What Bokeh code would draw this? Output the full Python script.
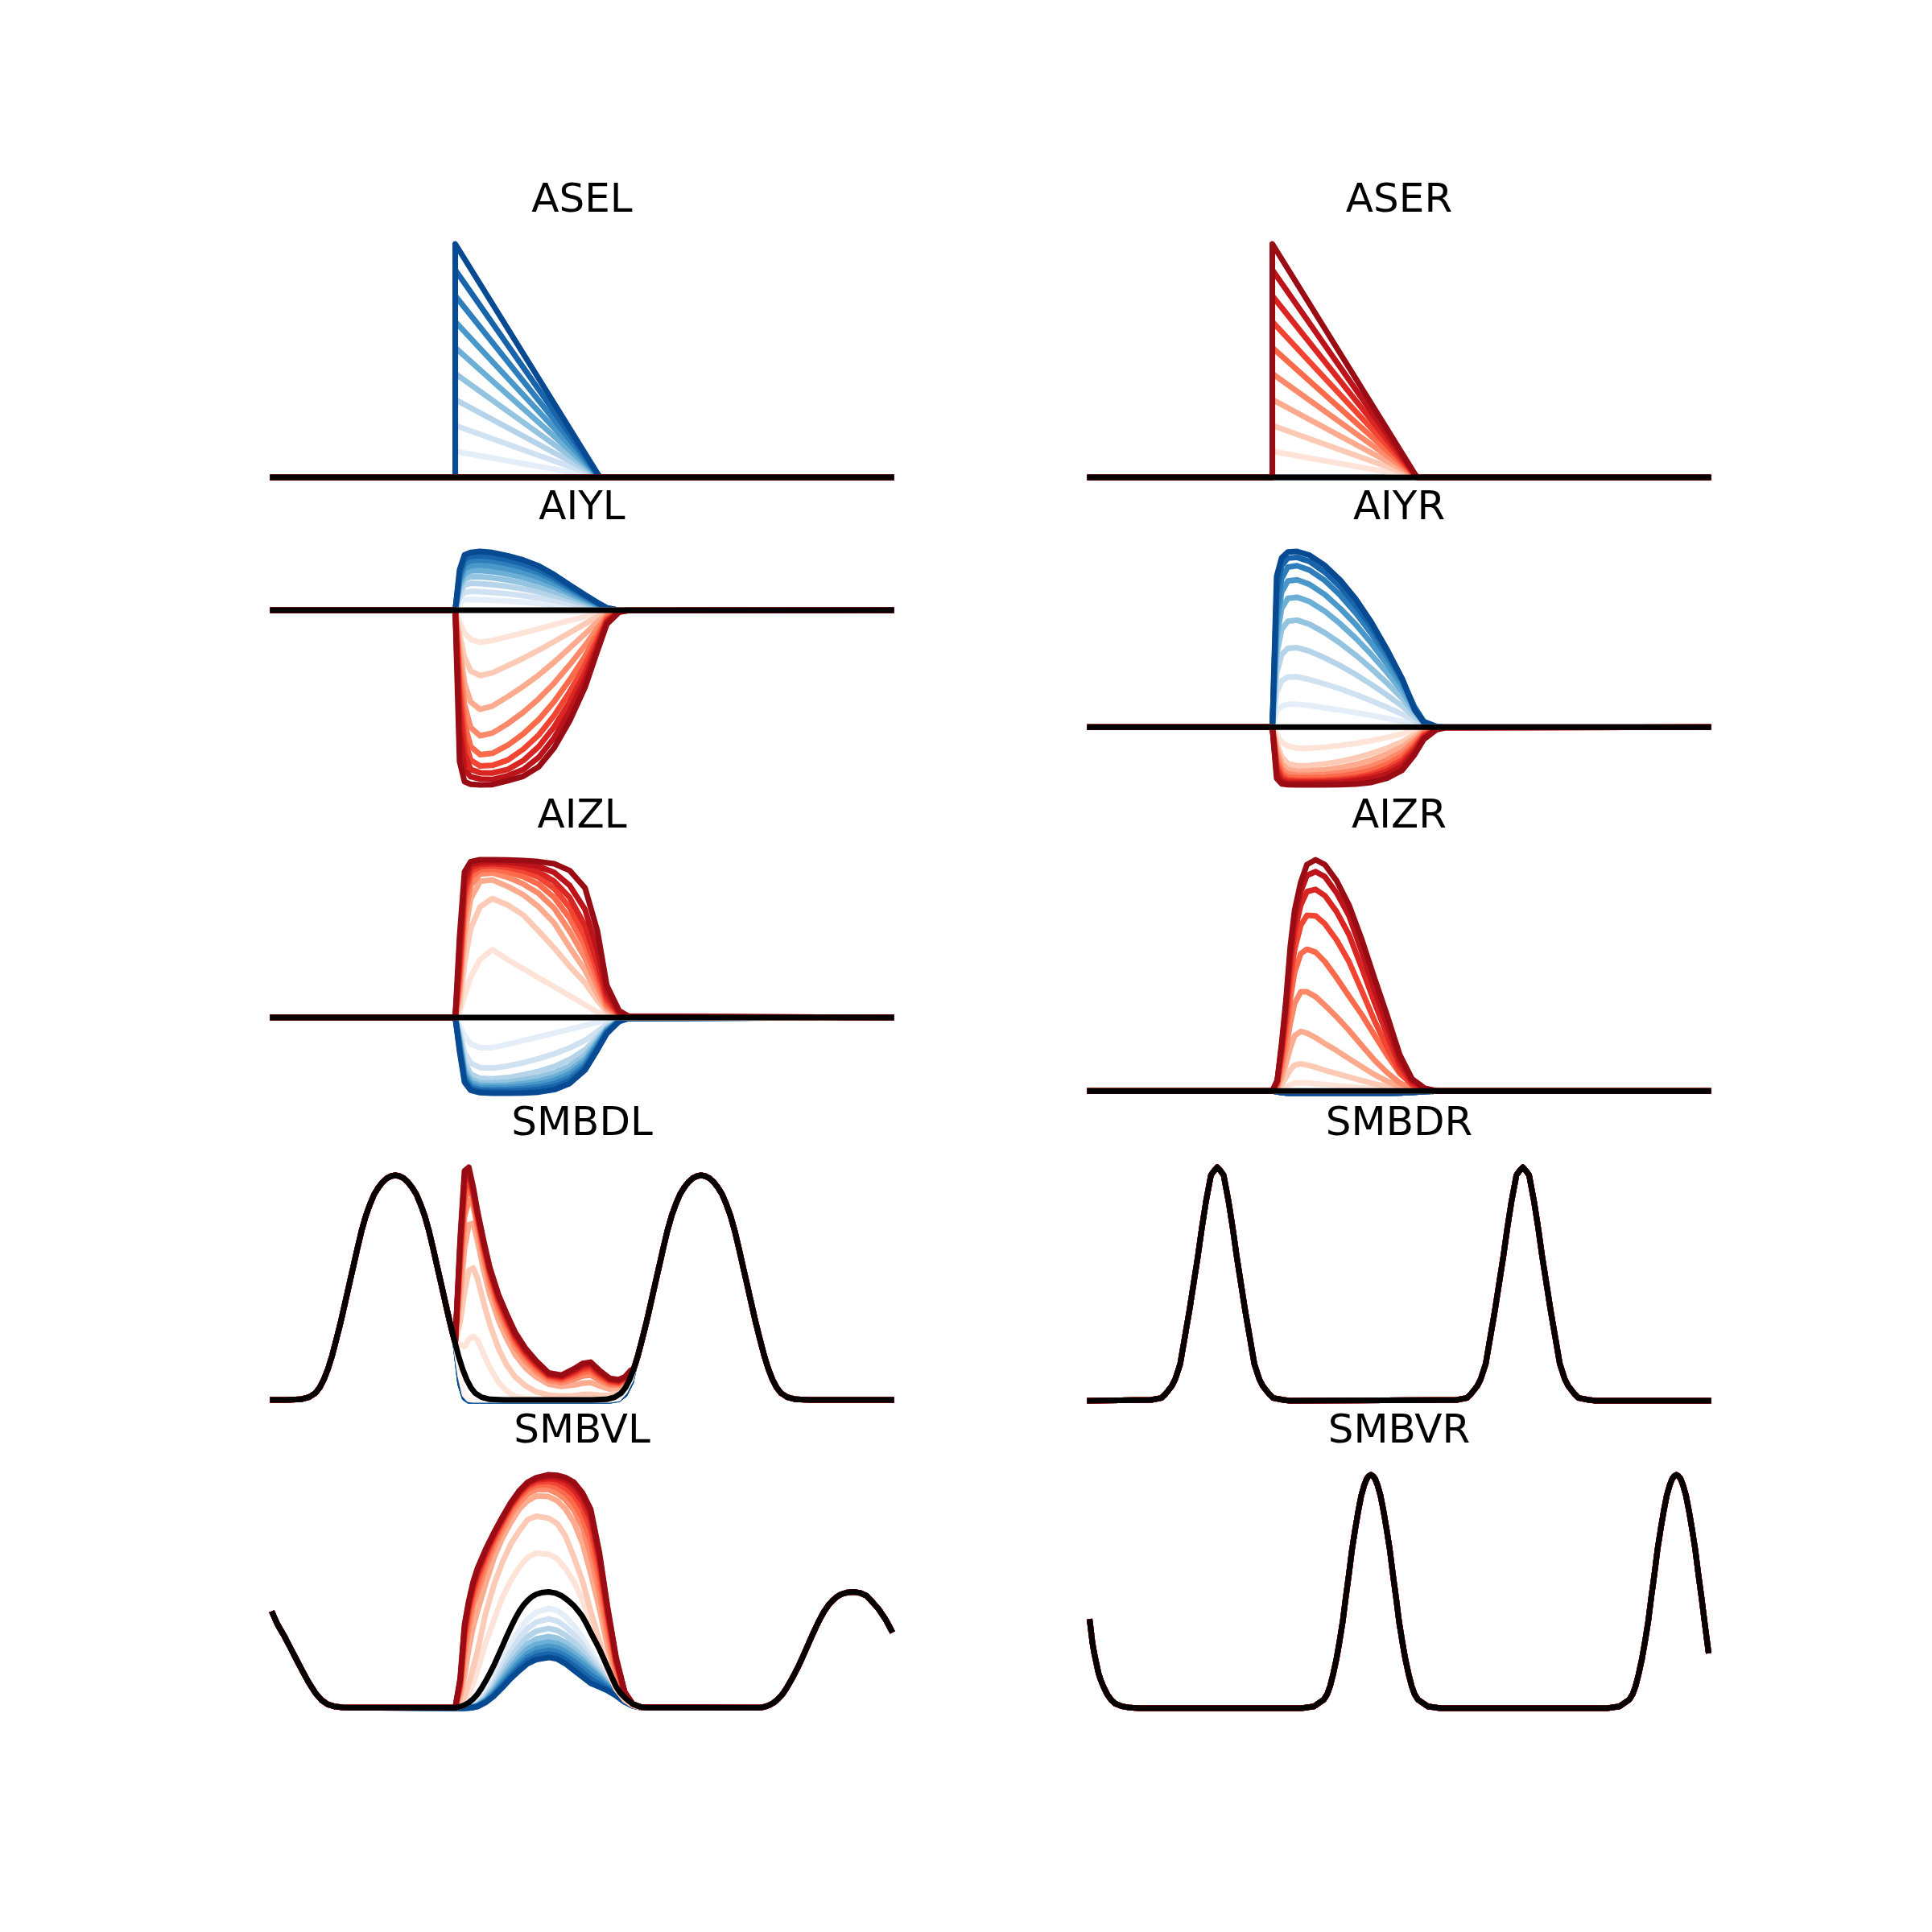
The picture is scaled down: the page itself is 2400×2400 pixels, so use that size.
from bokeh.plotting import figure
from bokeh.layouts import column, row
from bokeh.models import Range1d, ColumnDataSource
from bokeh.core.properties import value
from bokeh.embed import file_html
from bokeh.resources import INLINE

# ---------------- colours (matplotlib Blues / Reds sampled at 0.0 .. 0.9) ----------------
BLUES = ["#f7fbff", "#e3eef9", "#d0e1f2", "#b6d4e9", "#94c4df",
         "#6baed6", "#4a98c9", "#2e7ebc", "#1764ab", "#084a92"]
REDS = ["#fff5f0", "#fee4d8", "#fdcab5", "#fcab8e", "#fc8a6a",
        "#fb6a4a", "#f14432", "#d92623", "#bc141a", "#990c13"]

TITLES = [["ASEL", "ASER"], ["AIYL", "AIYR"], ["AIZL", "AIZR"],
          ["SMBDL", "SMBDR"], ["SMBVL", "SMBVR"]]

# ---------------- ASE (sensory step responses) ----------------
AS_X = [0, 29.5, 29.5, 52.9, 100]
AS_PEAKS = [0, 1, 2, 3, 4, 5, 6, 7, 8, 9]
AS_FLAT = [0, 0, 0, 0, 0]

# ---------------- AIY ----------------
AIY_X = [0, 29.5, 30.2, 31.0, 32.0, 33.5, 35.5, 38.0, 40.5, 43.0, 45.5, 48.0, 50.5, 52.5, 54.0, 56.0, 57.5, 100]
AI_FLAT = [0] * 18

AIYL_BLUE = [
    [0] * 18,
    [0, 0, 28, 38, 40, 39, 37, 34, 30, 25, 19, 13, 7, 3, 1, 0, 0, 0],
    [0, 0, 48, 66, 70, 69, 66, 61, 54, 46, 36, 25, 14, 6, 2, 0, 0, 0],
    [0, 0, 65, 93, 100, 99, 95, 88, 79, 68, 54, 38, 22, 10, 3, 0, 0, 0],
    [0, 0, 80, 116, 124, 124, 120, 112, 101, 87, 70, 50, 29, 14, 4, 0, 0, 0],
    [0, 0, 95, 135, 146, 147, 143, 134, 122, 106, 86, 61, 36, 18, 6, 0, 0, 0],
    [0, 0, 108, 155, 165, 167, 163, 153, 140, 122, 99, 71, 42, 21, 7, 0, 0, 0],
    [0, 0, 120, 173, 184, 187, 183, 172, 158, 139, 112, 80, 48, 24, 8, 0, 0, 0],
    [0, 0, 135, 190, 200, 202, 198, 187, 172, 151, 122, 87, 53, 27, 9, 0, 0, 0],
    [0, 0, 150, 205, 214, 218, 214, 202, 186, 164, 132, 94, 57, 29, 9, 0, 0, 0],
]
AIYL_RED = [
    [0] * 18,
    [0, 0, -45, -85, -108, -119, -112, -98, -84, -69, -53, -38, -24, -12, -4, 0, 0, 0],
    [0, 0, -90, -175, -225, -242, -232, -205, -178, -148, -116, -83, -50, -24, -7, 0, 0, 0],
    [0, 0, -140, -270, -340, -367, -355, -320, -282, -240, -192, -140, -87, -43, -13, 0, 0, 0],
    [0, 0, -190, -350, -435, -465, -455, -420, -378, -328, -270, -202, -130, -66, -20, -1, 0, 0],
    [0, 0, -240, -420, -505, -535, -530, -500, -458, -405, -338, -258, -170, -88, -27, -2, 0, 0],
    [0, 0, -290, -480, -555, -577, -575, -555, -515, -462, -390, -302, -203, -106, -34, -3, 0, 0],
    [0, 0, -350, -530, -590, -602, -603, -590, -557, -505, -432, -340, -232, -122, -40, -4, -1, 0],
    [0, 0, -440, -590, -617, -625, -627, -613, -590, -545, -472, -375, -257, -137, -46, -5, -1, 0],
    [0, 0, -560, -635, -645, -647, -646, -632, -615, -580, -510, -410, -285, -150, -52, -7, -1, 0],
]
AIYR_BLUE = [
    [0] * 18,
    [0, 0, 60, 78, 85, 85, 80, 72, 63, 54, 44, 33, 22, 11, 4, 0, 0, 0],
    [0, 0, 130, 172, 186, 187, 177, 160, 142, 121, 98, 74, 48, 24, 8, 0, 0, 0],
    [0, 0, 200, 270, 292, 295, 282, 257, 228, 195, 159, 120, 78, 38, 12, 1, 0, 0],
    [0, 0, 270, 362, 393, 397, 382, 350, 311, 267, 218, 165, 107, 52, 16, 1, 0, 0],
    [0, 0, 330, 440, 478, 482, 466, 430, 383, 330, 270, 204, 133, 62, 19, 2, 0, 0],
    [0, 0, 380, 500, 542, 547, 530, 492, 440, 381, 312, 236, 154, 70, 21, 2, 0, 0],
    [0, 0, 430, 550, 594, 599, 583, 544, 489, 423, 348, 263, 170, 75, 21, 2, 0, 0],
    [0, 0, 500, 600, 627, 630, 615, 575, 520, 452, 372, 280, 178, 72, 20, 2, 0, 0],
    [0, 0, 560, 628, 650, 652, 638, 600, 545, 475, 390, 290, 180, 65, 18, 3, 0, 0],
]
AIYR_RED = [
    [0] * 18,
    [0, 0, -30, -55, -70, -78, -78, -74, -68, -60, -50, -38, -25, -12, -4, 0, 0, 0],
    [0, 0, -60, -110, -135, -143, -142, -136, -127, -114, -98, -78, -54, -28, -9, -1, 0, 0],
    [0, 0, -80, -135, -157, -163, -162, -158, -150, -138, -122, -100, -73, -40, -14, -2, 0, 0],
    [0, 0, -100, -155, -173, -178, -178, -175, -169, -159, -144, -122, -92, -52, -19, -3, 0, 0],
    [0, 0, -120, -170, -185, -188, -188, -186, -181, -173, -160, -139, -107, -63, -24, -4, -1, 0],
    [0, 0, -140, -183, -195, -198, -198, -197, -193, -186, -174, -154, -121, -73, -29, -5, -1, 0],
    [0, 0, -155, -192, -201, -203, -203, -202, -199, -193, -182, -164, -132, -82, -34, -6, -1, 0],
    [0, 0, -172, -202, -207, -208, -208, -207, -205, -200, -191, -175, -144, -92, -40, -8, -1, 0],
    [0, 0, -190, -210, -213, -214, -214, -214, -213, -211, -205, -190, -160, -102, -45, -10, -2, 0],
]

# ---------------- AIZ ----------------
AIZL_RED = [
    [0] * 18,
    [0, 0, 20, 80, 150, 215, 252, 214, 181, 147, 114, 80, 47, 20, 7, 1, 0, 0],
    [0, 0, 40, 200, 330, 410, 441, 417, 380, 320, 258, 190, 128, 62, 22, 4, 0, 0],
    [0, 0, 80, 300, 440, 505, 510, 486, 455, 410, 350, 260, 175, 85, 30, 6, 1, 0],
    [0, 0, 110, 360, 490, 532, 536, 520, 495, 460, 405, 320, 220, 115, 40, 8, 1, 0],
    [0, 0, 140, 410, 520, 548, 551, 540, 522, 494, 445, 368, 262, 142, 50, 10, 2, 0],
    [0, 0, 170, 450, 540, 559, 563, 556, 543, 520, 478, 408, 300, 170, 62, 12, 2, 0],
    [0, 0, 200, 480, 555, 568, 571, 567, 557, 540, 505, 445, 340, 200, 76, 15, 3, 0],
    [0, 0, 250, 510, 567, 576, 578, 576, 570, 560, 538, 490, 400, 250, 95, 20, 4, 0],
    [0, 0, 300, 540, 578, 585, 585, 584, 582, 578, 570, 545, 480, 320, 120, 25, 5, 0],
]
AIZL_BLUE = [
    [0] * 18,
    [0, 0, -30, -70, -98, -112, -112, -100, -86, -72, -58, -44, -30, -18, -9, -2, 0, 0],
    [0, 0, -50, -130, -170, -186, -188, -180, -168, -153, -135, -113, -85, -52, -26, -7, -1, 0],
    [0, 0, -65, -165, -210, -226, -228, -223, -213, -200, -182, -156, -120, -73, -36, -9, -2, 0],
    [0, 0, -75, -185, -228, -242, -243, -240, -232, -221, -205, -180, -140, -84, -41, -10, -2, 0],
    [0, 0, -85, -200, -240, -252, -253, -251, -245, -236, -221, -197, -155, -92, -45, -11, -3, 0],
    [0, 0, -95, -212, -249, -259, -260, -259, -254, -247, -233, -210, -166, -99, -48, -12, -3, 0],
    [0, 0, -105, -222, -257, -267, -268, -267, -264, -258, -246, -223, -177, -106, -52, -13, -3, 0],
    [0, 0, -115, -232, -264, -273, -274, -274, -272, -267, -257, -234, -186, -113, -56, -14, -4, 0],
    [0, 0, -125, -240, -270, -279, -281, -281, -280, -277, -268, -245, -195, -120, -60, -15, -4, 0],
]

AIZR_X = [0, 29.5, 30.3, 31.0, 31.7, 32.4, 33.1, 34.1, 35.1, 36.5, 38.0, 39.9, 41.9, 44.0, 46.0, 48.0, 50.1, 52.1, 54.2, 56.2, 100]
AIZR_FLAT = [0] * 21
AIZR_RED = [
    [0] * 21,
    [0, 0, 3, 9, 16, 24, 29, 31, 30, 27, 24, 20, 16, 12, 8, 5, 3, 1, 0, 0, 0],
    [0, 0, 7, 25, 50, 78, 96, 101, 97, 88, 77, 65, 52, 39, 27, 16, 8, 3, 1, 0, 0],
    [0, 0, 12, 48, 100, 160, 205, 221, 215, 198, 176, 150, 120, 90, 61, 37, 16, 5, 1, 0, 0],
    [0, 0, 18, 75, 155, 250, 325, 368, 368, 350, 318, 275, 225, 168, 115, 70, 30, 9, 2, 0, 0],
    [0, 0, 25, 105, 210, 340, 440, 510, 526, 515, 480, 420, 352, 282, 208, 135, 65, 25, 5, 0, 0],
    [0, 0, 30, 130, 255, 410, 525, 615, 652, 650, 620, 560, 480, 370, 262, 165, 72, 22, 5, 0, 0],
    [0, 0, 35, 150, 290, 465, 590, 690, 740, 748, 725, 665, 580, 455, 330, 212, 95, 30, 6, 0, 0],
    [0, 0, 38, 165, 318, 505, 635, 740, 800, 814, 795, 735, 650, 515, 380, 250, 115, 38, 8, 0, 0],
    [0, 0, 40, 175, 335, 535, 670, 775, 840, 858, 840, 780, 690, 560, 420, 285, 135, 45, 10, 0, 0],
]
AIZR_BLUE = [0, 0, -3, -6, -7, -8, -8, -8, -8, -8, -8, -8, -8, -8, -8, -8, -7, -5, -2, 0, 0]

# ---------------- SMBD ----------------
SMBDL_PRE_X = [0, 2.11, 4.49, 5.85, 6.87, 7.56, 8.24, 8.92, 9.60, 10.28, 10.96, 11.64, 12.32, 13.00, 13.68,
               14.36, 15.04, 15.72, 16.40, 17.08, 17.76, 18.44, 19.12, 19.80, 20.48, 21.16, 21.84, 22.52,
               23.20, 23.88, 24.56, 25.24, 25.92, 26.60, 27.28, 27.96, 28.64, 29.32]
SMBDL_BLACK_PRE = [0, 0, 2, 10, 25, 45, 75, 115, 165, 225, 287, 355, 425, 493, 562,
                   628, 683, 726, 763, 788, 808, 822, 830, 833, 830, 822, 808, 788,
                   763, 726, 683, 628, 562, 493, 425, 355, 287, 225]
SMBDL_BLACK_MID_X = [30.00, 30.68, 31.36, 32.04, 32.73, 33.75, 35.11, 37.49, 51.56, 53.94, 55.30, 56.32, 57.01, 57.69]
SMBDL_BLACK_MID = [165, 115, 75, 45, 25, 10, 2, 0, 0, 2, 10, 25, 45, 75]
SMBDL_POST_X = [58.37, 59.05, 59.73, 60.41, 61.09, 61.77, 62.45, 63.13, 63.81, 64.49, 65.17, 65.85, 66.53,
                67.21, 67.89, 68.57, 69.25, 69.93, 70.61, 71.29, 71.97, 72.65, 73.33, 74.01, 74.69, 75.37,
                76.05, 76.73, 77.41, 78.09, 78.77, 79.45, 80.13, 80.81, 81.49, 82.18, 83.20, 84.56, 86.94, 100]
SMBDL_BLACK_POST = [115, 165, 225, 287, 355, 425, 493, 562, 628, 683, 726, 763, 788,
                    808, 822, 830, 833, 830, 822, 808, 788, 763, 726, 683, 628, 562,
                    493, 425, 355, 287, 225, 165, 115, 75, 45, 25, 10, 2, 0, 0]
SMBDL_WIN_X = [29.5, 30.3, 31.0, 31.7, 32.4, 33.1, 34.1, 35.1, 36.5, 37.8, 39.2, 40.9, 42.6, 44.6, 46.7, 48.7,
               50.1, 51.4, 52.8, 54.5, 55.9, 56.9, 57.9]
SMBDL_BLUE_WIN = [215, 60, 8, -3, -3, -3, -3, -3, -3, -3, -3, -3, -3, -3, -3, -3, -3, -3, -3, -3, 2, 20, 65]
SMBDL_RED_WIN = [
    [215, 90, 20, 2, 0, 0, 0, 0, 0, 0, 0, 0, 0, 0, 0, 0, 0, 0, 0, 0, 5, 30, 75],
    [215, 205, 198, 225, 235, 222, 170, 120, 65, 33, 12, 5, 3, 2, 2, 2, 2, 2, 2, 4, 18, 52, 94],
    [215, 290, 400, 480, 490, 450, 360, 280, 190, 130, 85, 52, 30, 18, 14, 16, 20, 21, 17, 16, 30, 58, 96],
    [215, 380, 560, 650, 655, 590, 480, 390, 295, 228, 168, 118, 85, 58, 50, 55, 62, 64, 52, 40, 45, 64, 98],
    [215, 450, 680, 740, 720, 640, 525, 428, 330, 260, 195, 143, 105, 72, 64, 76, 89, 92, 73, 55, 55, 70, 101],
    [215, 500, 740, 790, 745, 660, 548, 450, 350, 280, 213, 158, 117, 81, 73, 88, 103, 107, 84, 62, 60, 74, 103],
    [215, 530, 780, 815, 760, 675, 562, 465, 363, 293, 225, 168, 126, 87, 79, 97, 114, 118, 92, 68, 64, 77, 105],
    [215, 560, 810, 835, 772, 685, 574, 476, 374, 304, 235, 176, 133, 92, 84, 104, 122, 127, 99, 73, 68, 80, 107],
    [215, 580, 832, 850, 782, 693, 583, 484, 383, 313, 243, 184, 140, 96, 88, 110, 129, 134, 105, 77, 72, 83, 109],
    [215, 600, 850, 863, 790, 700, 590, 490, 390, 320, 250, 190, 145, 100, 92, 115, 135, 140, 110, 80, 75, 85, 110],
]

SMBDR_X = [0, 9.9, 11.55, 12.23, 13.25, 13.8, 14.61, 15.36, 16.11, 16.79, 17.47, 18.08, 18.76, 19.58, 20.06,
           20.6, 21.14, 21.62, 22.44, 23.12, 23.73, 24.41, 25.09, 25.84, 26.59, 27.4, 27.95, 28.97, 29.65,
           31.28, 32.37,
           59.3, 60.95, 61.63, 62.65, 63.2, 64.01, 64.76, 65.51, 66.19, 66.87, 67.48, 68.16, 68.98, 69.46,
           70.0, 70.54, 71.02, 71.84, 72.52, 73.13, 73.81, 74.49, 75.24, 75.99, 76.8, 77.35, 78.37, 79.05,
           80.68, 81.77, 100]
SMBDR_Y = [0, 3, 10, 25, 55, 80, 137, 237, 337, 437, 537, 637, 737, 837, 852,
           866, 852, 837, 737, 637, 537, 437, 337, 237, 137, 80, 55, 25, 10,
           3, 0,
           3, 10, 25, 55, 80, 137, 237, 337, 437, 537, 637, 737, 837, 852,
           866, 852, 837, 737, 637, 537, 437, 337, 237, 137, 80, 55, 25, 10,
           3, 0, 0]

# ---------------- SMBV ----------------
SMBVL_PRE_X = [0, 0.75, 1.77, 2.79, 3.81, 4.83, 5.85, 6.87, 7.89, 8.91, 9.93, 11.29, 12.65]
SMBVL_BLACK_PRE = [349, 310, 270, 225, 180, 135, 92, 55, 28, 12, 5, 1, 0]
SMBVL_BLACK_MID_X = [29.52, 30.34, 31.02, 31.70, 32.38, 33.06, 33.74, 34.42, 35.10, 35.78, 36.46, 37.14, 37.82,
                     38.50, 39.18, 39.86, 40.54, 41.22, 41.90, 42.59, 43.61, 44.63, 45.65, 46.67, 47.69, 48.71,
                     49.39, 50.07, 50.75, 51.43, 52.11, 52.79, 53.47, 54.15, 54.83, 55.51, 56.19, 56.87, 57.55,
                     58.23, 58.91, 59.59, 60.61]
SMBVL_BLACK_MID = [0, 4, 10, 19, 32, 49, 72, 99, 128, 159, 194, 229, 265,
                   299, 331, 359, 382, 399, 413, 422, 429, 431, 427, 417, 400, 379,
                   360, 339, 311, 279, 249, 219, 184, 149, 113, 79, 55, 39, 25,
                   14, 7, 2, 0]
SMBVL_POST_X = [78.84, 79.66, 80.34, 81.02, 81.70, 82.38, 83.06, 83.74, 84.42, 85.10, 85.78, 86.46, 87.14,
                87.82, 88.50, 89.18, 89.86, 90.54, 91.22, 91.90, 92.93, 93.95, 94.97, 95.99, 97.01, 98.03,
                99.05, 100]
SMBVL_BLACK_POST = [0, 4, 10, 19, 32, 49, 72, 99, 128, 159, 194, 229, 265,
                    299, 331, 359, 382, 399, 413, 422, 429, 431, 427, 417, 392, 365,
                    330, 289]
SMBVL_WIN_X = [29.5, 30.3, 31.0, 31.7, 32.4, 33.1, 34.4, 35.8, 37.1, 38.5, 39.9, 41.2, 42.6, 44.6, 46.0, 47.3, 48.7,
               50.1, 51.4, 52.8, 54.1, 55.5, 56.9, 58.2, 59.6]
SMBVL_RED_WIN = [
    [0, 4, 10, 19, 32, 49, 99, 159, 229, 299, 359, 399, 422, 430, 424, 407, 379, 339, 279, 219, 149, 79, 39, 14, 2],
    [0, 4, 19, 49, 89, 139, 239, 329, 409, 474, 524, 559, 576, 571, 554, 519, 469, 399, 319, 229, 139, 69, 29, 9, 0],
    [0, 10, 40, 90, 150, 210, 350, 460, 540, 610, 660, 700, 713, 705, 685, 640, 560, 470, 360, 250, 150, 70, 28, 9, 1],
    [0, 40, 120, 220, 300, 360, 460, 560, 630, 690, 740, 770, 788, 786, 770, 740, 690, 610, 500, 370, 230, 110, 40, 12, 2],
    [0, 60, 200, 300, 380, 430, 520, 600, 660, 720, 765, 795, 812, 812, 798, 775, 735, 670, 570, 430, 270, 130, 45, 13, 2],
    [0, 75, 240, 340, 410, 460, 545, 620, 680, 738, 782, 812, 828, 830, 818, 798, 762, 705, 620, 480, 310, 150, 50, 14, 2],
    [0, 85, 265, 365, 435, 485, 562, 632, 690, 748, 792, 822, 839, 842, 835, 818, 790, 740, 665, 520, 340, 165, 54, 14, 2],
    [0, 95, 285, 380, 450, 500, 575, 643, 698, 755, 800, 830, 847, 853, 848, 836, 810, 765, 700, 550, 358, 175, 56, 14, 2],
    [0, 102, 298, 391, 460, 510, 583, 649, 704, 760, 805, 835, 852, 860, 857, 848, 826, 785, 722, 567, 370, 182, 58, 14, 2],
    [0, 109, 309, 399, 469, 519, 589, 654, 709, 764, 809, 839, 856, 867, 865, 857, 839, 799, 739, 579, 379, 189, 59, 14, 2],
]
SMBVL_BLUE_WIN = [
    [0, 4, 10, 19, 32, 49, 99, 159, 229, 299, 359, 399, 422, 430, 424, 407, 379, 339, 279, 219, 149, 79, 39, 14, 2],
    [0, 0, 1, 3, 8, 18, 55, 110, 175, 240, 290, 330, 355, 370, 362, 340, 305, 260, 210, 160, 110, 65, 28, 8, 1],
    [0, 0, 1, 2, 6, 14, 45, 95, 152, 210, 258, 295, 318, 330, 322, 302, 272, 233, 190, 148, 104, 62, 27, 8, 1],
    [0, 0, 0, 2, 5, 12, 38, 82, 133, 185, 230, 264, 285, 295, 288, 270, 243, 210, 173, 137, 97, 59, 26, 8, 1],
    [-1, -1, 0, 1, 4, 10, 33, 72, 118, 165, 206, 237, 256, 265, 259, 243, 219, 190, 158, 126, 91, 56, 25, 8, 0],
    [-1, -1, -1, 1, 3, 8, 29, 64, 106, 149, 188, 218, 236, 245, 239, 224, 202, 176, 148, 118, 86, 53, 24, 7, 0],
    [-1, -1, -1, 0, 2, 7, 26, 58, 96, 136, 172, 201, 219, 228, 223, 208, 187, 162, 138, 110, 81, 51, 23, 7, 0],
    [-2, -2, -1, 0, 2, 6, 23, 52, 87, 125, 159, 187, 204, 213, 207, 193, 172, 147, 122, 100, 76, 49, 22, 7, 0],
    [-2, -2, -2, -1, 1, 5, 21, 48, 80, 116, 149, 175, 191, 200, 194, 178, 156, 131, 106, 88, 70, 47, 22, 7, 0],
    [-2, -2, -2, -1, 1, 4, 19, 44, 74, 109, 139, 164, 179, 187, 181, 164, 139, 114, 91, 77, 64, 44, 21, 7, 0],
]

SMBVR_X = [0, 0.2, 0.4, 0.7, 1.1, 1.4, 1.8, 2.3, 2.8, 3.4, 4.1, 5.2, 6.5, 8.0,
           34.22, 36.26, 37.82, 38.37, 38.84, 39.32, 39.86, 40.34, 40.88, 41.36, 41.90, 42.38, 42.92, 43.40,
           43.88, 44.35, 44.76, 45.10, 45.44, 45.78, 46.12, 46.53, 47.00, 47.48, 47.96, 48.50, 48.98, 49.52,
           50.00, 50.54, 51.02, 51.56, 52.04, 52.51, 53.06, 54.62, 56.66,
           83.62, 85.66, 87.22, 87.77, 88.24, 88.72, 89.26, 89.74, 90.28, 90.76, 91.30, 91.78, 92.32, 92.80,
           93.28, 93.75, 94.16, 94.50, 94.84, 95.18, 95.52, 95.93, 96.40, 96.88, 97.36, 97.90, 98.38, 98.92,
           99.40, 100]
SMBVR_Y = [322, 285, 245, 205, 162, 130, 102, 75, 52, 32, 17, 7, 2, 0,
           0, 7, 32, 52, 82, 125, 182, 245, 322, 410, 502, 590, 670, 735,
           792, 830, 855, 865, 870, 865, 855, 830, 792, 735, 670, 590, 502, 410,
           322, 245, 182, 125, 82, 52, 32, 7, 0,
           0, 7, 32, 52, 82, 125, 182, 245, 322, 410, 502, 590, 670, 735,
           792, 830, 855, 865, 870, 865, 855, 830, 792, 735, 670, 590, 502, 410,
           322, 215]

# ---------------- assemble curve sets ----------------
def ase_curves(peaks):
    return [list(AS_X) for _ in peaks], [[0, 0, a, 0, 0] for a in peaks]


def win_curves(pre_x, pre_y, win_x, wins, post_x, post_y):
    xs = [pre_x + win_x + post_x for _ in wins]
    ys = [pre_y + w + post_y for w in wins]
    return xs, ys


panels = {}
bx, by = ase_curves(AS_PEAKS)
panels["ASEL"] = (bx, by, [AS_X] * 10, [AS_FLAT] * 10, AS_X, AS_FLAT)
rx, ry = ase_curves(AS_PEAKS)
panels["ASER"] = ([AS_X] * 10, [AS_FLAT] * 10, rx, ry, AS_X, AS_FLAT)
panels["AIYL"] = ([AIY_X] * 10, AIYL_BLUE, [AIY_X] * 10, AIYL_RED, AIY_X, AI_FLAT)
panels["AIYR"] = ([AIY_X] * 10, AIYR_BLUE, [AIY_X] * 10, AIYR_RED, AIY_X, AI_FLAT)
panels["AIZL"] = ([AIY_X] * 10, AIZL_BLUE, [AIY_X] * 10, AIZL_RED, AIY_X, AI_FLAT)
panels["AIZR"] = ([AIZR_X] * 10, [AIZR_FLAT] + [AIZR_BLUE] * 9, [AIZR_X] * 10, AIZR_RED, AIZR_X, AIZR_FLAT)

sbx, sby = win_curves(SMBDL_PRE_X, SMBDL_BLACK_PRE, SMBDL_WIN_X, [SMBDL_BLUE_WIN] * 10, SMBDL_POST_X, SMBDL_BLACK_POST)
srx, sry = win_curves(SMBDL_PRE_X, SMBDL_BLACK_PRE, SMBDL_WIN_X, SMBDL_RED_WIN, SMBDL_POST_X, SMBDL_BLACK_POST)
panels["SMBDL"] = (sbx, sby, srx, sry,
                   SMBDL_PRE_X + SMBDL_BLACK_MID_X + SMBDL_POST_X,
                   SMBDL_BLACK_PRE + SMBDL_BLACK_MID + SMBDL_BLACK_POST)
panels["SMBDR"] = ([SMBDR_X] * 10, [SMBDR_Y] * 10, [SMBDR_X] * 10, [SMBDR_Y] * 10, SMBDR_X, SMBDR_Y)

vbx, vby = win_curves(SMBVL_PRE_X, SMBVL_BLACK_PRE, SMBVL_WIN_X, SMBVL_BLUE_WIN, SMBVL_POST_X, SMBVL_BLACK_POST)
vrx, vry = win_curves(SMBVL_PRE_X, SMBVL_BLACK_PRE, SMBVL_WIN_X, SMBVL_RED_WIN, SMBVL_POST_X, SMBVL_BLACK_POST)
panels["SMBVL"] = (vbx, vby, vrx, vry,
                   SMBVL_PRE_X + SMBVL_BLACK_MID_X + SMBVL_POST_X,
                   SMBVL_BLACK_PRE + SMBVL_BLACK_MID + SMBVL_BLACK_POST)
panels["SMBVR"] = ([SMBVR_X] * 10, [SMBVR_Y] * 10, [SMBVR_X] * 10, [SMBVR_Y] * 10, SMBVR_X, SMBVR_Y)

# ---------------- layout ----------------
LW = 7.0
FRAME_W, DATA_H = 845, 319
TOP_SPACE = [288, 0, 0, 0, 0]       # space above each row's data area
BOTTOM_SPACE = [63, 64, 63, 63, 0]  # gap below each row's data area (holds the next row's title)
TITLE_PAD = 43                      # title anchor above the data area it names (px)


def make_panel(name, col, top, bottom, next_name):
    bxs, bys, rxs, rys, kx, ky = panels[name]
    vals = [v for ys in (bys + rys + [ky]) for v in ys]
    lo, hi = min(vals), max(vals)
    pad = 0.05 * (hi - lo)
    y0, y1 = lo - pad, hi + pad
    per_px = (y1 - y0) / DATA_H
    if col == 0:
        bl, br = 300, 169
    else:
        bl, br = 1, 0
    p = figure(width=bl + FRAME_W + br, height=top + DATA_H + bottom,
               min_border_left=bl, min_border_right=br, min_border_top=0, min_border_bottom=0,
               x_range=Range1d(-5, 105),
               y_range=Range1d(y0 - bottom * per_px, y1 + top * per_px),
               x_axis_location=None, y_axis_location=None,
               toolbar_location=None, output_backend="svg")
    p.grid.visible = False
    p.outline_line_color = None
    p.background_fill_color = "white"
    p.border_fill_color = "white"
    sb = ColumnDataSource(dict(xs=bxs, ys=bys, c=BLUES))
    p.multi_line("xs", "ys", source=sb, line_color="c", line_width=LW, line_join="round", line_cap="square")
    sr = ColumnDataSource(dict(xs=rxs, ys=rys, c=REDS))
    p.multi_line("xs", "ys", source=sr, line_color="c", line_width=LW, line_join="round", line_cap="square")
    p.line(kx, ky, line_color="black", line_width=LW, line_join="round", line_cap="square")
    tx, ty, tt = [], [], []
    if top > 0:
        tx.append(50)
        ty.append(y1 + TITLE_PAD * per_px)
        tt.append(name)
    if next_name is not None:
        tx.append(50)
        ty.append(y0 - (bottom - TITLE_PAD) * per_px)
        tt.append(next_name)
    p.text(x=tx, y=ty, text=tt,
           text_align="center", text_baseline="alphabetic",
           text_font=value("DejaVu Sans"), text_font_size=value("50px"), text_color="black")
    return p


rows = []
for r in range(5):
    cells = []
    for c in range(2):
        nxt = TITLES[r + 1][c] if r < 4 else None
        cells.append(make_panel(TITLES[r][c], c, TOP_SPACE[r], BOTTOM_SPACE[r], nxt))
    rows.append(row(*cells))
layout = column(*rows)

open("out.html", "w").write(file_html(layout, INLINE))
